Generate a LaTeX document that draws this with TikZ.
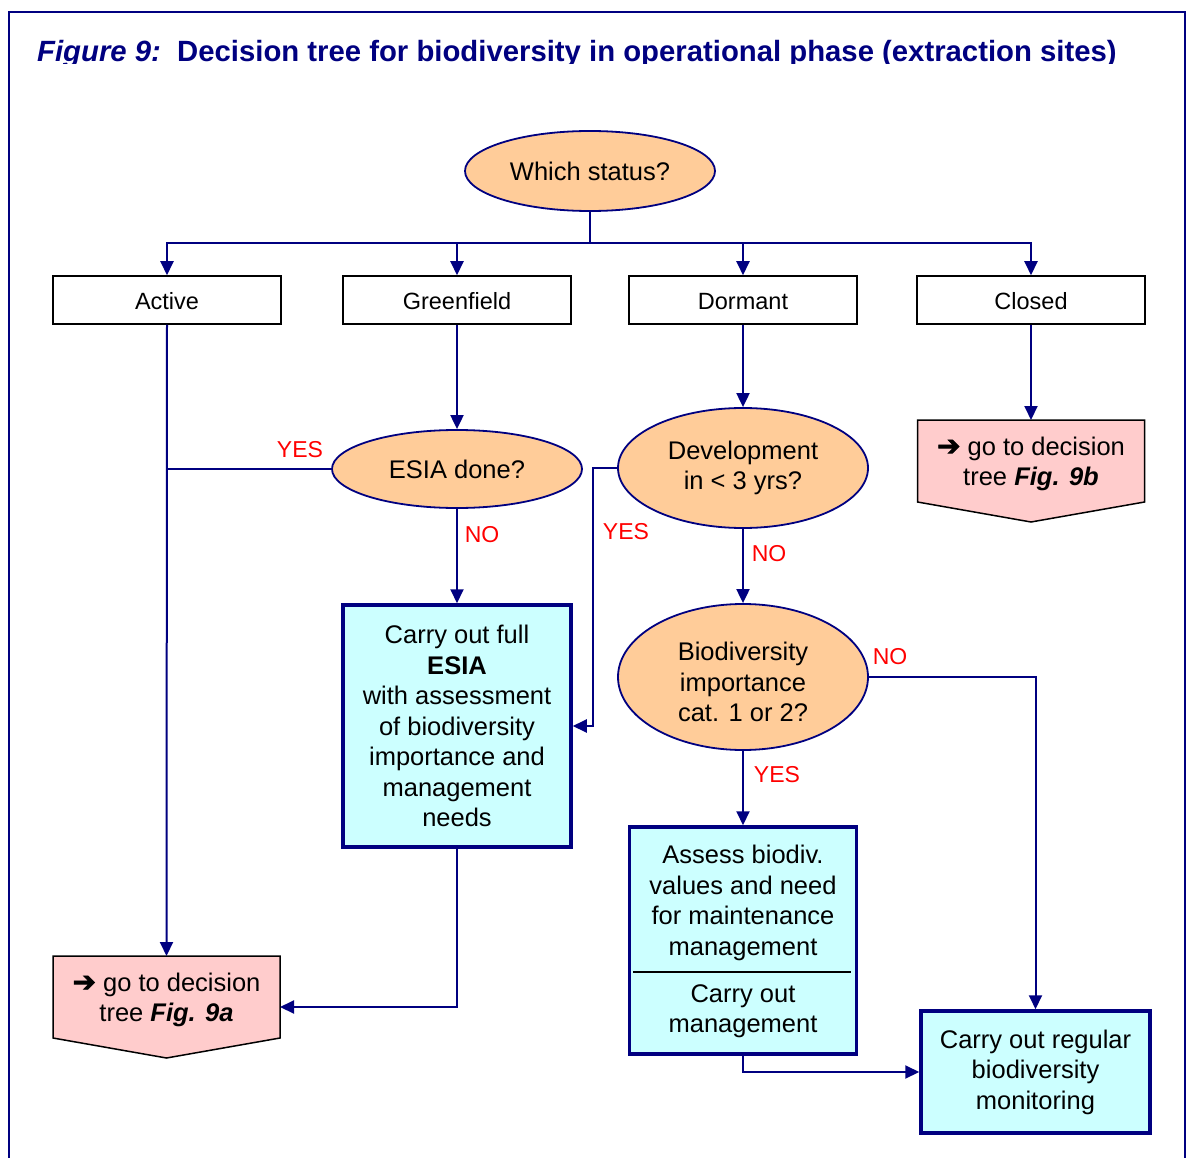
\documentclass[tikz,border=0pt]{standalone}
\usepackage{fontspec}
\setmainfont{Liberation Sans}
\newfontfamily\arrowfont[FakeBold=2.5]{DejaVu Sans}
\usetikzlibrary{shapes.geometric,arrows.meta,calc,backgrounds}
\definecolor{navy}{HTML}{000080}
\definecolor{peach}{HTML}{FFCC99}
\definecolor{pinkfill}{HTML}{FFCCCC}
\definecolor{cyanlt}{HTML}{CCFFFF}
\definecolor{lblred}{HTML}{FF0000}
\newcommand{\goarrow}{{\arrowfont\fontsize{28}{30.5}\selectfont ➔}}
\begin{document}
\begin{tikzpicture}[x=1pt,y=-1pt,
  conn/.style={draw=navy, line width=2pt},
  arr/.style={conn, -{Triangle[length=14pt,width=13pt]}},
  status/.style={ellipse, draw=navy, line width=1.8pt, fill=peach, minimum width=250pt, minimum height=80pt, inner sep=0pt, align=center, font=\fontsize{25.5}{30.5}\selectfont},
  catbox/.style={rectangle, draw=black, line width=1.5pt, minimum width=228pt, minimum height=48pt, inner sep=0pt, text height=21pt, text depth=1pt, font=\fontsize{23.5}{28}\selectfont},
  actbox/.style={rectangle, draw=navy, line width=3.5pt, fill=cyanlt, minimum width=228pt, inner sep=0pt, align=center, font=\fontsize{25.5}{30.5}\selectfont},
  plaintext/.style={align=center, inner sep=0pt, font=\fontsize{25.5}{30.5}\selectfont},
  pinkbox/.style={rectangle, minimum width=227pt, minimum height=82pt, inner sep=0pt, outer sep=0pt, align=center, font=\fontsize{25.5}{30.5}\selectfont},
  pinkshape/.style={draw=black, line width=1.5pt, fill=pinkfill},
  lbl/.style={text=lblred, inner sep=0pt, font=\fontsize{23}{27}\selectfont}
]
\useasboundingbox (0,0) rectangle (1186,1158);
% frame
\draw[navy, line width=2pt] (9,1158) -- (9,12) -- (1185,12) -- (1185,1158);
% title (clipped like the original)
\begin{scope}
\clip (0,0) rectangle (1186,64);
\node[anchor=base west, text=navy, inner sep=0pt, font=\fontsize{29.3}{32}\selectfont\bfseries] (title) at (37,62) {\textit{Figure 9:}\ \ Decision tree for biodiversity in operational phase (extraction sites)};
\end{scope}

% nodes
\node[status] (which) at (590,171) {Which status?};
\node[catbox] (active) at (167,300) {Active};
\node[catbox] (green) at (457,300) {Greenfield};
\node[catbox] (dorm) at (743,300) {Dormant};
\node[catbox] (closed) at (1031,300) {Closed};
\node[status, minimum height=78pt] (esia) at (457,469) {ESIA done?};
\node[status, minimum height=120pt] (dev) at (743,468) {Development\\in < 3 yrs?};
\node[status, minimum height=146pt] (bio) at (743,677) {\\[-2pt]Biodiversity\\importance\\cat. 1 or 2?};
\node[actbox, minimum height=242pt] (full) at (457,726) {Carry out full\\\textbf{ESIA}\\with assessment\\of biodiversity\\importance and\\management\\needs};
\node[actbox, minimum width=227pt, minimum height=227pt] (assess) at (743,940.5) {};
\node[plaintext] (assessA) at (743,903) {Assess biodiv.\\values and need\\for maintenance\\management};
\node[plaintext] (assessB) at (743,1011) {Carry out\\management};
\draw[black, line width=1.5pt] (633,972) -- (851,972);
\node[actbox, minimum width=229pt, minimum height=122pt] (mon) at (1035.5,1072) {Carry out regular\\biodiversity\\monitoring};
\node[pinkbox] (p9a) at (166.5,997) {\\[-6pt]\goarrow\ go to decision\\tree \textbf{\textit{Fig. 9a}}};
\node[pinkbox] (p9b) at (1031,461) {\\[-6pt]\goarrow\ go to decision\\tree \textbf{\textit{Fig. 9b}}};
\begin{scope}[on background layer]
\draw[pinkshape] (p9a.north west) -- (p9a.north east) -- (p9a.south east) -- ($(p9a.south)+(0,20)$) -- (p9a.south west) -- cycle;
\draw[pinkshape] (p9b.north west) -- (p9b.north east) -- (p9b.south east) -- ($(p9b.south)+(0,20)$) -- (p9b.south west) -- cycle;
\end{scope}

% connectors
\coordinate (hub) at (590,243);
\draw[conn] (which.south) -- (hub);
\draw[arr] (hub) -| (active.north);
\draw[arr] (hub) -| (green.north);
\draw[arr] (hub) -| (dorm.north);
\draw[arr] (hub) -| (closed.north);
\draw[arr] (active.south) -- (p9a.north);
\draw[arr] (green.south) -- (esia.north);
\draw[conn] (esia.west) -- (esia.west -| active.south);
\draw[arr] (esia.south) -- (full.north);
\draw[arr] (full.south) |- ($(p9a.east)+(0,10)$);
\draw[arr] (dorm.south) -- (dev.north);
\draw[arr] (dev.west) -- ++(-24,0) |- (full.east);
\draw[arr] (dev.south) -- (bio.north);
\draw[arr] (bio.east) -| (mon.north);
\draw[arr] (bio.south) -- (assess.north);
\draw[arr] (assess.south) |- (mon.west);
\draw[arr] (closed.south) -- (p9b.north);

% labels
\node[lbl] (l1) at (300,450) {YES};
\node[lbl] (l2) at (482,535) {NO};
\node[lbl] (l3) at (626,532) {YES};
\node[lbl] (l4) at (769,554) {NO};
\node[lbl] (l5) at (890,657) {NO};
\node[lbl] (l6) at (777,775) {YES};
\end{tikzpicture}
\end{document}
